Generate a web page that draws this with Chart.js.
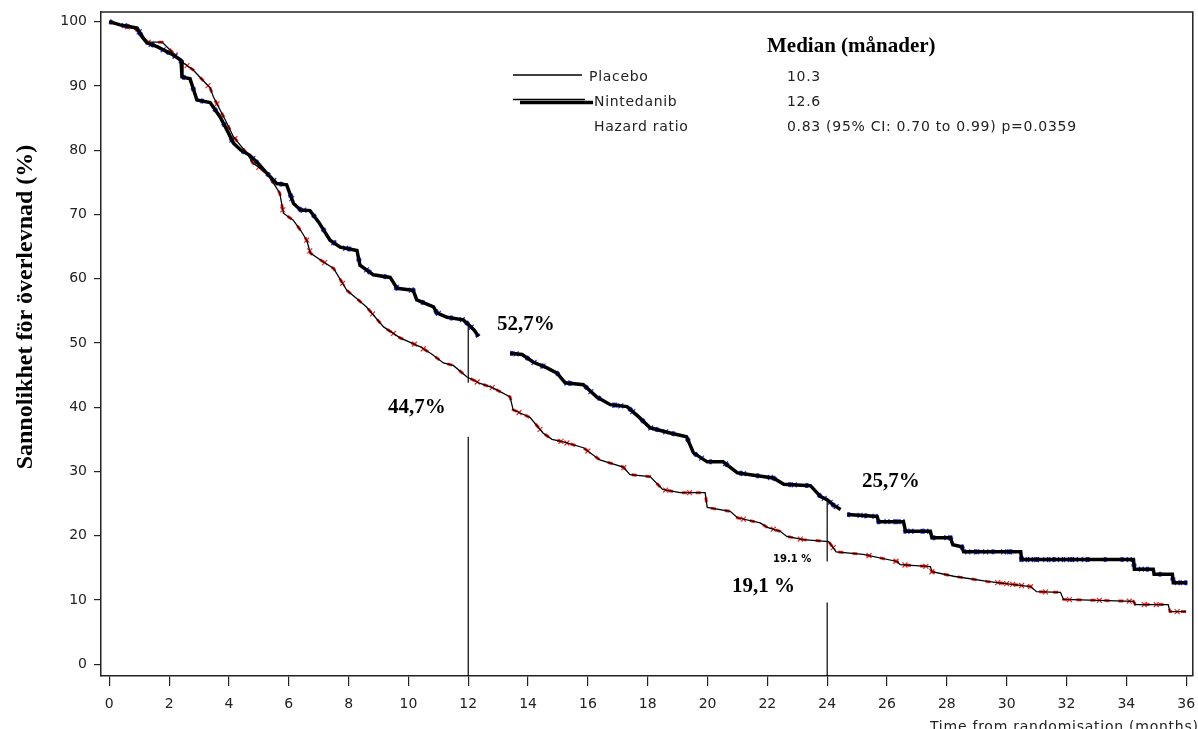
<!DOCTYPE html>
<html lang="sv">
<head>
<meta charset="UTF-8">
<title>Sannolikhet för överlevnad</title>
<script src="https://cdn.jsdelivr.net/npm/chart.js"></script>
<style>
  html, body { margin: 0; padding: 0; background: #fff; }
  #wrap { width: 1198px; height: 729px; }
</style>
</head>
<body>
<div id="wrap"><canvas id="km" width="1198" height="729"></canvas></div>
<script>
// axis ticks
const xTicks = [0, 2, 4, 6, 8, 10, 12, 14, 16, 18, 20, 22, 24, 26, 28, 30, 32, 34, 36];
const yTicks = [0, 10, 20, 30, 40, 50, 60, 70, 80, 90, 100];

// Nintedanib (thick line), curve vertices: months / survival %
const ninTimes = [0, 0.36, 0.7, 0.93, 1.1, 1.26, 1.6, 2.14, 2.4, 2.43, 2.7, 2.93, 3.37, 3.7, 3.95, 4.15, 4.4, 4.7, 5.0, 5.27,
  5.6, 5.93, 6.16, 6.4, 6.71, 7.0, 7.38, 7.72, 8.28, 8.38, 8.83, 9.39, 9.62, 10.16, 10.28, 10.84, 10.95, 11.29, 11.83, 12.0,
  12.2, 12.34, 12.9, 13.4, 13.8, 14.18, 14.6, 14.97, 15.24, 15.85, 16.3, 16.75, 17.31, 17.7, 18.08, 18.75, 19.3, 19.53, 19.99, 20.52,
  21.0, 21.43, 22.2, 22.55, 23.44, 23.78, 24.0, 24.2, 24.45, 24.55, 24.67, 25.67, 25.72, 26.55, 26.62, 27.45, 27.5, 28.12, 28.2, 28.5,
  28.56, 30.47, 30.5, 34.24, 34.27, 34.9, 34.93, 35.54, 35.57, 36.04];
const ninSurv = [100, 99.5, 99.2, 99.0, 97.6, 96.7, 96.1, 94.8, 94.0, 91.4, 91.1, 87.8, 87.4, 85.2, 83.0, 81.1, 80.0, 79.2, 77.8, 76.4,
  74.8, 74.6, 71.7, 70.7, 70.6, 68.8, 66.0, 64.9, 64.4, 62.1, 60.6, 60.2, 58.5, 58.2, 56.7, 55.6, 54.7, 54.0, 53.6, 52.9,
  52.0, 51.0, null, 48.4, 48.2, 47.0, 46.2, 45.3, 43.8, 43.5, 41.6, 40.4, 40.1, 38.5, 36.8, 36.0, 35.4, 32.9, 31.5, 31.5,
  29.8, 29.5, 29.0, 28.0, 27.8, 26.1, 25.6, 24.8, 24.1, null, 23.3, 23.0, 22.2, 22.2, 20.7, 20.7, 19.7, 19.7, 18.6, 18.3,
  17.5, 17.5, 16.3, 16.3, 14.8, 14.8, 14.0, 14.0, 12.7, 12.7];

// Placebo (thin line)
const plaTimes = [0, 0.36, 0.8, 1.1, 1.27, 1.77, 2.14, 2.43, 2.8, 3.04, 3.37, 3.48, 3.7, 3.9, 4.15, 4.6, 4.8, 5.27, 5.5, 5.7,
  5.82, 6.15, 6.4, 6.6, 6.72, 7.1, 7.5, 7.94, 8.3, 8.6, 9.17, 9.72, 10.4, 10.8, 11.17, 11.5, 11.96, 12.4, 12.83, 13.4,
  13.5, 14.07, 14.5, 14.8, 15.18, 15.85, 16.4, 17.18, 17.41, 18.08, 18.5, 19.08, 19.92, 19.99, 20.76, 21.0, 21.76, 22.0, 22.43, 22.65,
  23.2, 24.05, 24.3, 25.2, 26.34, 26.44, 27.45, 27.5, 28.23, 29.35, 30.8, 31.0, 31.8, 31.9, 34.24, 34.3, 35.4, 35.46, 36.0];
const plaSurv = [100, 99.4, 99.0, 98.0, 96.8, 96.8, 95.1, 93.7, 92.5, 91.3, 89.7, 88.3, 86.3, 84.5, 82.1, 79.5, 78.0, 76.4, 74.8, 73.3,
  70.2, 69.1, 67.5, 66.0, 64.0, 62.8, 61.6, 58.2, 56.8, 55.6, 52.5, 50.8, 49.4, 48.2, 46.9, 46.5, 44.7, 43.7, 43.0, 41.6,
  39.6, 38.4, 36.0, 35.0, 34.6, 33.7, 31.8, 30.7, 29.5, 29.2, 27.2, 26.7, 26.7, 24.4, 23.8, 22.8, 22.0, 21.3, 20.7, 19.9,
  19.4, 19.1, 17.5, 17.1, 16.0, 15.5, 15.2, 14.4, 13.7, 12.9, 12.1, 11.3, 11.2, 10.1, 9.8, 9.3, 9.3, 8.2, 8.2];

// censoring times (x marks)
const ninCensor = [0.5, 1.0, 1.4, 1.8, 2.2, 4.1, 4.8, 5.5, 6.1, 6.5, 7.5, 7.9, 8.6, 9.6, 10.1, 11.0, 11.8, 12.1, 13.6, 14.2,
  14.5, 15.3, 16.1, 16.9, 17.1, 17.5, 18.1, 18.6, 19.8, 20.6, 21.2, 22.1, 22.9, 23.9, 24.1, 24.3, 25.1, 25.6, 26.0, 26.3,
  26.5, 26.8, 27.3, 28.0, 28.7, 29.0, 29.3, 29.9, 30.1, 30.6, 30.8, 31.0, 31.3, 31.5, 31.8, 32.0, 32.3, 32.6, 34.1, 34.5, 35.7, 35.9];
const plaCensor = [0.6, 1.3, 2.2, 2.6, 3.3, 3.6, 4.2, 5.0, 5.8, 6.6, 6.7, 7.2, 7.8, 8.8, 9.5, 10.2, 10.5, 12.3, 12.8, 13.7,
  14.4, 15.1, 15.3, 16.0, 17.2, 18.6, 19.4, 21.2, 22.2, 23.1, 24.2, 25.4, 26.3, 26.6, 27.3, 27.5, 29.7, 30.0, 30.2, 30.5,
  30.8, 31.3, 32.1, 33.1, 34.1, 34.6, 35.0, 35.7];

// vertical reference lines at 12 and 24 months: [month, from %, to %]
const refLines = [[12, 52.7, 43.8], [12, 35.4, -1.82], [24, 25.5, 16.0], [24, 9.6, -1.82]];

const legendNames = ['Placebo', 'Nintedanib', 'Hazard ratio'];
const legendValues = ['10.3', '12.6', '0.83 (95% CI: 0.70 to 0.99) p=0.0359'];
const yTitle = 'Sannolikhet för överlevnad (%)';
const xTitle = 'Time from randomisation (months)';

function toPoints(ts, vs) {
  return ts.map((t, i) => ({ x: t, y: vs[i] }));
}
// position of a censor mark on the drawn curve
function survivalAt(ts, vs, t) {
  for (let i = 0; i < ts.length - 1; i++) {
    if (ts[i] <= t && t < ts[i + 1] && vs[i] !== null) {
      if (vs[i + 1] === null) return vs[i];
      return vs[i] + (vs[i + 1] - vs[i]) * (t - ts[i]) / (ts[i + 1] - ts[i]);
    }
  }
  return vs[vs.length - 1];
}

const refData = [];
refLines.forEach(r => {
  refData.push({ x: r[0], y: r[1] }, { x: r[0], y: r[2] }, { x: r[0], y: null });
});

const tickFont = { family: 'DejaVu Sans', size: 14 };

// text, legend and frame
const overlay = {
  id: 'overlay',
  afterDraw(chart) {
    const ctx = chart.ctx;
    const a = chart.chartArea;
    ctx.save();
    ctx.strokeStyle = '#222';
    ctx.lineWidth = 1.5;
    ctx.beginPath();
    ctx.moveTo(a.left, a.top);
    ctx.lineTo(a.right, a.top);
    ctx.lineTo(a.right, a.bottom);
    ctx.stroke();

    // y title
    ctx.fillStyle = '#000';
    ctx.font = 'bold 24px "Liberation Serif"';
    ctx.textAlign = 'center';
    ctx.save();
    ctx.translate(32, 307);
    ctx.rotate(-Math.PI / 2);
    ctx.fillText(yTitle, 0, 0);
    ctx.restore();

    // annotations
    ctx.textAlign = 'left';
    ctx.font = 'bold 21px "Liberation Serif"';
    ctx.fillText('Median (månader)', 767, 52);
    ctx.fillText('52,7%', 497, 330);
    ctx.fillText('44,7%', 388, 413);
    ctx.fillText('25,7%', 862, 487);
    ctx.fillText('19,1 %', 732, 592);
    ctx.font = 'bold 10px "DejaVu Sans"';
    ctx.fillText('19.1 %', 773, 562);

    // legend block
    ctx.fillStyle = '#222';
    ctx.font = '14px "DejaVu Sans"';
    ctx.letterSpacing = '0.7px';
    const rows = [81, 106, 131];
    legendNames.forEach((n, i) => {
      ctx.fillText(n, i === 0 ? 589 : 594, rows[i]);
      ctx.fillText(legendValues[i], 787, rows[i]);
    });
    ctx.strokeStyle = '#000';
    ctx.lineWidth = 1.3;
    ctx.beginPath();
    ctx.moveTo(513, 75);
    ctx.lineTo(582, 75);
    ctx.stroke();
    ctx.lineWidth = 1.5;
    ctx.beginPath();
    ctx.moveTo(513, 99.5);
    ctx.lineTo(585, 99.5);
    ctx.stroke();
    ctx.lineWidth = 3.5;
    ctx.beginPath();
    ctx.moveTo(520, 102.5);
    ctx.lineTo(593, 102.5);
    ctx.stroke();

    // x title (cut by the bottom edge)
    ctx.letterSpacing = '0.75px';
    ctx.fillText(xTitle, 930, 731);
    ctx.letterSpacing = '0px';
    ctx.restore();
  }
};

new Chart(document.getElementById('km'), {
  type: 'line',
  data: {
    datasets: [
      {
        label: 'Nintedanib',
        data: toPoints(ninTimes, ninSurv),
        borderColor: '#000', borderWidth: 3.5,
        pointRadius: 0, spanGaps: false, order: 1
      },
      {
        label: 'Placebo',
        data: toPoints(plaTimes, plaSurv),
        borderColor: '#000', borderWidth: 1.3,
        pointRadius: 0, spanGaps: false, order: 1
      },
      {
        label: 'Nintedanib censored',
        type: 'scatter',
        data: ninCensor.map(t => ({ x: t, y: survivalAt(ninTimes, ninSurv, t) })),
        showLine: false, pointStyle: 'crossRot', pointRadius: 3.5,
        borderColor: '#1f2fff', borderWidth: 1.2, order: 2
      },
      {
        label: 'Placebo censored',
        type: 'scatter',
        data: plaCensor.map(t => ({ x: t, y: survivalAt(plaTimes, plaSurv, t) })),
        showLine: false, pointStyle: 'crossRot', pointRadius: 3.5,
        borderColor: '#ff2020', borderWidth: 1.2, order: 2
      },
      {
        label: 'Placebo red',
        data: toPoints(plaTimes, plaSurv),
        borderColor: '#ff2a2a', borderWidth: 3, borderDash: [5, 9],
        pointRadius: 0, spanGaps: false, order: 3
      },
      {
        label: 'Nintedanib blue',
        data: toPoints(ninTimes, ninSurv),
        borderColor: '#2a3aff', borderWidth: 5, borderDash: [3, 14],
        pointRadius: 0, spanGaps: false, order: 3
      },
      {
        label: 'Ref',
        data: refData,
        borderColor: '#000', borderWidth: 1.2,
        pointRadius: 0, spanGaps: false, order: 1
      }
    ]
  },
  options: {
    responsive: false,
    animation: false,
    events: [],
    layout: { padding: { top: 12, right: 2, left: 0, bottom: 0 } },
    plugins: { legend: { display: false }, tooltip: { enabled: false }, title: { display: false } },
    scales: {
      x: {
        type: 'linear', min: -0.277, max: 36.223,
        afterBuildTicks(s) { s.ticks = xTicks.map(v => ({ value: v })); },
        afterFit(s) { s.height = 53; s.paddingLeft = 0; s.paddingRight = 0; },
        ticks: { font: tickFont, color: '#222', padding: 10, maxRotation: 0, autoSkip: false },
        grid: { drawOnChartArea: false, drawTicks: true, tickLength: 10, color: '#222', lineWidth: 1.2 },
        border: { display: true, color: '#222', width: 1.5 }
      },
      y: {
        type: 'linear', min: -1.82, max: 101.5,
        afterBuildTicks(s) { s.ticks = yTicks.map(v => ({ value: v })); },
        afterFit(s) { s.width = 101; s.paddingTop = 0; s.paddingBottom = 0; },
        ticks: { font: tickFont, color: '#222', padding: 7, autoSkip: false },
        grid: { drawOnChartArea: false, drawTicks: true, tickLength: 7, color: '#222', lineWidth: 1.2 },
        border: { display: true, color: '#222', width: 1.5 }
      }
    }
  },
  plugins: [overlay]
});
</script>
</body>
</html>
